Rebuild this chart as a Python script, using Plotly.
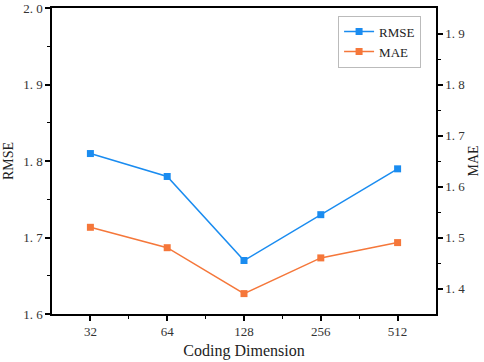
import plotly.graph_objects as go

categories = ["32", "64", "128", "256", "512"]
rmse = [1.81, 1.78, 1.67, 1.73, 1.79]
mae = [1.52, 1.48, 1.39, 1.46, 1.49]
rmse_ticks = [1.6, 1.7, 1.8, 1.9, 2.0]
mae_ticks = [1.4, 1.5, 1.6, 1.7, 1.8, 1.9]
rmse_labels = ["1.\u00a06", "1.\u00a07", "1.\u00a08", "1.\u00a09", "2.\u00a00"]
mae_labels = ["1.\u00a04", "1.\u00a05", "1.\u00a06", "1.\u00a07", "1.\u00a08", "1.\u00a09"]

BLUE = "#1a8cf0"
ORANGE = "#f5773a"
FONT = "Liberation Serif"

x = list(range(len(categories)))

fig = go.Figure()
fig.add_trace(go.Scatter(x=x, y=rmse, name="RMSE", mode="lines+markers",
                         line=dict(color=BLUE, width=1.5),
                         marker=dict(symbol="square", size=7, color=BLUE)))
fig.add_trace(go.Scatter(x=x, y=mae, name="MAE", mode="lines+markers", yaxis="y2",
                         line=dict(color=ORANGE, width=1.5),
                         marker=dict(symbol="square", size=7, color=ORANGE)))

axis_common = dict(showline=True, linecolor="black", linewidth=1.5, showgrid=False,
                   zeroline=False, tickcolor="black", ticklen=5, tickwidth=1.5,
                   automargin=False, ticklabeloverflow="allow",
                   tickfont=dict(family=FONT, size=13, color="#333"))

fig.update_layout(
    width=484, height=362,
    margin=dict(l=52, r=48, t=8, b=48, autoexpand=False),
    plot_bgcolor="white", paper_bgcolor="white",
    font=dict(family=FONT, color="#222"),
    xaxis=dict(**axis_common, range=[-0.5, 4.5], tickmode="array", tickvals=x,
               ticktext=categories, ticks="outside", mirror=True,
               minor=dict(tickvals=[0.5, 1.5, 2.5, 3.5], ticks="outside", ticklen=3,
                          tickcolor="black", tickwidth=1),
               title=dict(text="Coding Dimension", font=dict(family=FONT, size=16),
                          standoff=6)),
    yaxis=dict(**axis_common, range=[1.6, 2.0005], tickvals=rmse_ticks,
               ticktext=rmse_labels, ticks="outside",
               minor=dict(tickvals=[1.65, 1.75, 1.85, 1.95], ticks="outside", ticklen=3,
                          tickcolor="black", tickwidth=1),
               title=dict(text="RMSE", font=dict(family=FONT, size=14), standoff=6)),
    yaxis2=dict(**axis_common, range=[1.35, 1.95], overlaying="y", side="right",
                tickvals=mae_ticks, ticktext=mae_labels, ticks="outside",
                minor=dict(tickvals=[1.45, 1.55, 1.65, 1.75, 1.85], ticks="outside",
                           ticklen=3, tickcolor="black", tickwidth=1),
                title=dict(text="MAE", font=dict(family=FONT, size=14), standoff=4)),
    legend=dict(x=0.745, y=0.975, xanchor="left", yanchor="top",
                bordercolor="#bbbbbb", borderwidth=1, bgcolor="white",
                font=dict(family=FONT, size=13, color="#222"),
                tracegroupgap=0, itemwidth=30),
)

fig.write_html("out.html", config={"displayModeBar": False},
               post_script="document.body.style.margin='0';document.body.style.overflow='hidden';")
